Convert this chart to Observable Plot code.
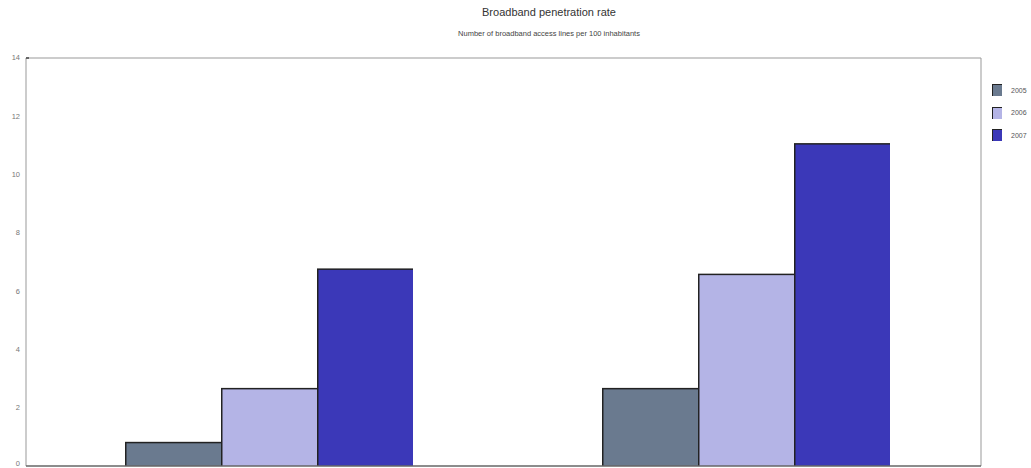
<!DOCTYPE html>
<html>
<head>
<meta charset="utf-8">
<script src="https://cdn.jsdelivr.net/npm/d3@7"></script>
<script src="https://cdn.jsdelivr.net/npm/@observablehq/plot@0.6"></script>
<style>
  body { margin: 0; background: #fff; font-family: "Liberation Sans", Arial, sans-serif; }
  #wrap { position: relative; width: 1031px; height: 468px; overflow: hidden; }
  #title { position: absolute; left: 0; width: 1098px; top: 6px; text-align: center; font-size: 11px; color: #333; }
  #subtitle { position: absolute; left: 0; width: 1098px; top: 29px; text-align: center; font-size: 7.5px; color: #444; }
  #chart { position: absolute; left: 0; top: 45px; }
  #legend { position: absolute; left: 992px; top: 79px; font-size: 7px; color: #555; }
  .item { display: flex; align-items: center; height: 22.5px; }
  .sw { width: 10px; height: 12px; border-left: 1.5px solid #222; border-top: 1.5px solid #222; margin-right: 9px; box-sizing: border-box; }
</style>
</head>
<body>
<div id="wrap">
  <div id="title">Broadband penetration rate</div>
  <div id="subtitle">Number of broadband access lines per 100 inhabitants</div>
  <div id="chart"></div>
  <div id="legend"></div>
</div>
<script>
const groups = ["Group 1", "Group 2"];
const years = ["2005", "2006", "2007"];
const colors = ["#6a7a8f", "#b4b4e6", "#3b38b8"];
const group1Values = [0.83, 2.68, 6.78];
const group2Values = [2.68, 6.6, 11.08];
const yTicks = [0, 2, 4, 6, 8, 10, 12, 14];

const data = [];
years.forEach((y, i) => {
  data.push({group: groups[0], year: y, value: group1Values[i]});
  data.push({group: groups[1], year: y, value: group2Values[i]});
});

const plot = Plot.plot({
  width: 1031,
  height: 423,
  marginTop: 13,
  marginBottom: 2,
  marginLeft: 26,
  marginRight: 50,
  style: {fontFamily: "Liberation Sans, Arial, sans-serif", fontSize: "7.5px", color: "#666", background: "#fff"},
  fx: {domain: groups, paddingInner: 0.392, paddingOuter: 0.197, align: 0.52, axis: null, label: null},
  x: {domain: years, padding: 0, axis: null},
  y: {domain: [0, 14], ticks: yTicks, axis: null},
  color: {domain: years, range: colors},
  facet: {data, x: "group", label: null},
  marks: [
    Plot.barY(data, {x: "year", y: "value", fill: "#222"}),
    Plot.barY(data, {x: "year", y: "value", fill: "year", insetLeft: 1.5, insetTop: 1.5})
  ]
});
document.getElementById("chart").appendChild(plot);

// frame over the full plot area (left, top, right borders), baseline, y tick labels
const svg = d3.select(plot);
const yS = plot.scale("y");
const left = 26, right = 1031 - 50;
svg.append("path")
  .attr("d", `M${left},${yS.apply(0)}V${yS.apply(14)}H${right}V${yS.apply(0)}`)
  .attr("fill", "none").attr("stroke", "#999").attr("stroke-width", 1);
svg.append("path")
  .attr("d", `M${left},${yS.apply(0)}H${right}`)
  .attr("fill", "none").attr("stroke", "#666").attr("stroke-width", 1.5);
svg.append("path")
  .attr("d", `M${left},${yS.apply(14)}h3`)
  .attr("fill", "none").attr("stroke", "#444").attr("stroke-width", 1.5);
svg.append("g")
  .attr("font-family", "Liberation Sans, Arial, sans-serif")
  .attr("font-size", 7.5).attr("fill", "#777").attr("text-anchor", "end")
  .selectAll("text").data(yTicks).join("text")
  .attr("x", 20)
  .attr("y", d => Math.min(yS.apply(d), 419))
  .attr("dy", "0.32em")
  .text(d => d);

const legend = document.getElementById("legend");
years.forEach((y, i) => {
  const item = document.createElement("div");
  item.className = "item";
  const sw = document.createElement("div");
  sw.className = "sw";
  sw.style.background = colors[i];
  const lab = document.createElement("span");
  lab.textContent = y;
  item.appendChild(sw);
  item.appendChild(lab);
  legend.appendChild(item);
});
</script>
</body>
</html>
